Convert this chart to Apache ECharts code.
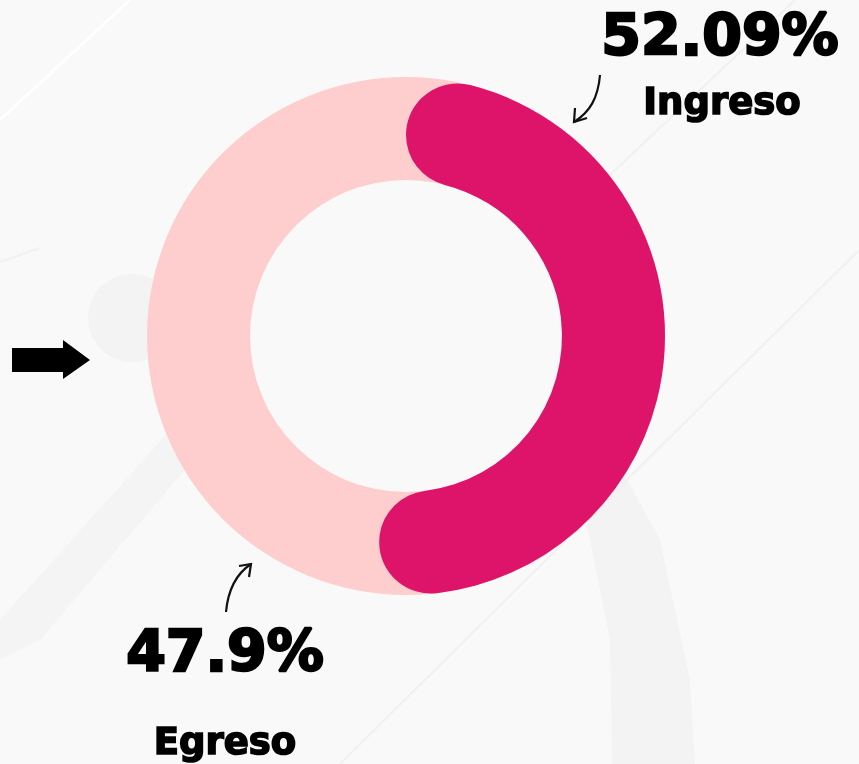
<!DOCTYPE html>
<html>
<head>
<meta charset="utf-8">
<script src="https://cdn.jsdelivr.net/npm/echarts@6/dist/echarts.min.js"></script>
<style>
html,body{margin:0;padding:0;background:#fafafa;}
#chart{width:859px;height:764px;}
</style>
</head>
<body>
<div id="chart"></div>
<script>
const categories = ['Ingreso', 'Egreso'];
const values = [52.09, 47.9];
const valueLabels = ['52.09%', '47.9%'];

const chart = echarts.init(document.getElementById('chart'));
const FONT = '"DejaVu Sans", sans-serif';
const center = [406, 336];
const radius = [156, 259];

const option = {
  backgroundColor: '#f9f9f9',
  animation: false,
  graphic: [
    // faint background decorations
    { type: 'polygon', shape: { points: [[172,428],[200,452],[40,640],[0,660],[0,620]] }, style: { fill: '#f4f4f4' }, z: 0 },
    { type: 'polygon', shape: { points: [[560,420],[600,430],[660,540],[690,680],[695,764],[612,764],[610,640],[590,540]] }, style: { fill: '#f3f3f3' }, z: 0 },
    { type: 'circle', shape: { cx: 132, cy: 318, r: 44 }, style: { fill: '#f3f3f3' }, z: 0 },
    { type: 'line', shape: { x1: 0, y1: 120, x2: 130, y2: 0 }, style: { stroke: '#ffffff', lineWidth: 3 }, z: 0 },
    { type: 'line', shape: { x1: 0, y1: 262, x2: 40, y2: 248 }, style: { stroke: '#f1f1f1', lineWidth: 2 }, z: 0 },
    { type: 'line', shape: { x1: 795, y1: 0, x2: 610, y2: 175 }, style: { stroke: '#f1f1f1', lineWidth: 2 }, z: 0 },
    { type: 'line', shape: { x1: 859, y1: 250, x2: 340, y2: 764 }, style: { stroke: '#f1f1f1', lineWidth: 2 }, z: 0 },
    // black arrow on the left
    { type: 'polygon', shape: { points: [[12,348],[63,348],[63,340],[90,360],[63,379],[63,372],[12,372]] }, style: { fill: '#000' }, z: 5 },
    // small curved arrow top
    { type: 'bezierCurve', shape: { x1: 600, y1: 75, cpx1: 598, cpy1: 98, x2: 574, y2: 122, cpx2: 590, cpy2: 112 }, style: { stroke: '#111', lineWidth: 2.2, fill: null }, z: 5 },
    { type: 'polyline', shape: { points: [[575,108],[574,122],[587,118]] }, style: { stroke: '#111', lineWidth: 2.2, fill: null }, z: 5 },
    // small curved arrow bottom
    { type: 'bezierCurve', shape: { x1: 226, y1: 612, cpx1: 228, cpy1: 590, x2: 251, y2: 564, cpx2: 236, cpy2: 574 }, style: { stroke: '#111', lineWidth: 2.2, fill: null }, z: 5 },
    { type: 'polyline', shape: { points: [[239,566],[251,564],[249,577]] }, style: { stroke: '#111', lineWidth: 2.2, fill: null }, z: 5 },
    // labels
    { type: 'text', x: 720, y: 40, style: { text: valueLabels[0], font: 'bold 57px ' + FONT, fill: '#000', stroke: '#000', lineWidth: 2.5, textAlign: 'center', textVerticalAlign: 'middle' }, z: 5 },
    { type: 'text', x: 722, y: 104, style: { text: categories[0], font: 'bold 37px ' + FONT, fill: '#000', stroke: '#000', lineWidth: 1.6, textAlign: 'center', textVerticalAlign: 'middle' }, z: 5 },
    { type: 'text', x: 225, y: 656, style: { text: valueLabels[1], font: 'bold 57px ' + FONT, fill: '#000', stroke: '#000', lineWidth: 2.5, textAlign: 'center', textVerticalAlign: 'middle' }, z: 5 },
    { type: 'text', x: 225, y: 744, style: { text: categories[1], font: 'bold 37px ' + FONT, fill: '#000', stroke: '#000', lineWidth: 1.6, textAlign: 'center', textVerticalAlign: 'middle' }, z: 5 }
  ],
  series: [
    {
      type: 'pie',
      silent: true,
      center: center,
      radius: radius,
      label: { show: false },
      labelLine: { show: false },
      data: [{ value: values[0] + values[1], name: 'total', itemStyle: { color: '#fecdcd' } }],
      z: 1
    },
    {
      type: 'pie',
      silent: true,
      center: center,
      radius: radius,
      startAngle: 90,
      clockwise: true,
      label: { show: false },
      labelLine: { show: false },
      data: [
        { value: values[0], name: categories[0], itemStyle: { color: '#dd1469', borderRadius: 52 } },
        { value: values[1], name: categories[1], itemStyle: { color: 'rgba(0,0,0,0)' } }
      ],
      z: 2
    }
  ]
};
chart.setOption(option);
</script>
</body>
</html>
